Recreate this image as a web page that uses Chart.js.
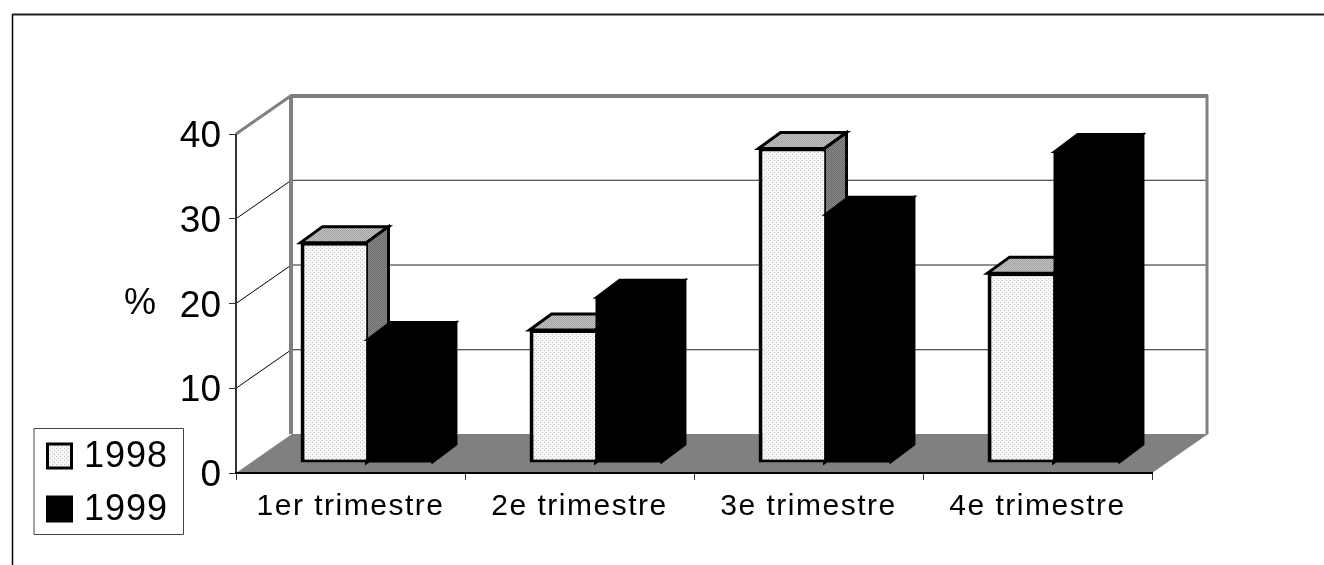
<!DOCTYPE html>
<html>
<head>
<meta charset="utf-8">
<style>
  html, body { margin: 0; padding: 0; background: #fff; }
  #wrap { position: relative; width: 1324px; height: 565px; }
</style>
<script src="https://cdn.jsdelivr.net/npm/chart.js@4"></script>
</head>
<body>
<div id="wrap"><canvas id="chart" width="1324" height="565"></canvas></div>
<script>
const quarters = ['1er trimestre', '2e trimestre', '3e trimestre', '4e trimestre'];
const values1998 = [26.0, 15.7, 37.1, 22.4];
const values1999 = [14.5, 19.5, 29.3, 36.7];
const gridValues = [10, 20, 30];
const axisMax = 40;
const unitLabel = '%';

const fontFamily = '"Liberation Sans", Arial, sans-serif';

// small repeating tiles for the stippled faces
function stipple(bg, dot, step) {
  const c = document.createElement('canvas');
  c.width = c.height = step * 2;
  const g = c.getContext('2d');
  g.fillStyle = bg;
  g.fillRect(0, 0, c.width, c.height);
  g.fillStyle = dot;
  g.fillRect(0, 0, 1, 1);
  g.fillRect(step, step, 1, 1);
  return g.createPattern(c, 'repeat');
}
const frontFill = stipple('#f6f6f6', '#c4c4c4', 2);
const topFill = stipple('#c4c4c4', '#a0a0a0', 1);
const sideFill = stipple('#8c8c8c', '#686868', 1);

// depth of the room and how far the bars sit inside it
const wall = { dx: 56, dy: -39 };
const barShift = { dx: 16, dy: -10 };
const barDepth = [{ dx: 22, dy: -16 }, { dx: 24, dy: -18 }];

function polygon(ctx, pts, fill, stroke, lw) {
  ctx.beginPath();
  pts.forEach((p, i) => (i ? ctx.lineTo(p[0], p[1]) : ctx.moveTo(p[0], p[1])));
  ctx.closePath();
  if (fill) { ctx.fillStyle = fill; ctx.fill(); }
  if (stroke) {
    ctx.strokeStyle = stroke;
    ctx.lineWidth = lw;
    ctx.lineJoin = 'miter';
    ctx.stroke();
  }
}

function line(ctx, x1, y1, x2, y2, color, lw) {
  ctx.beginPath();
  ctx.moveTo(x1, y1);
  ctx.lineTo(x2, y2);
  ctx.strokeStyle = color;
  ctx.lineWidth = lw;
  ctx.stroke();
}

// page frame, floor, back wall and wall grid
const room = {
  id: 'room',
  beforeDraw(chart) {
    const { ctx, chartArea: a, scales: { x, y } } = chart;
    const dx = wall.dx, dy = wall.dy;

    // the category labels are set wide, the value labels are not
    if (!x.spacedLabels) {
      const drawLabels = x.drawLabels;
      x.drawLabels = function (area) {
        ctx.letterSpacing = '1.5px';
        drawLabels.call(this, area);
        ctx.letterSpacing = '0px';
      };
      x.spacedLabels = true;
    }

    ctx.save();
    ctx.fillStyle = '#fff';
    ctx.fillRect(0, 0, chart.width, chart.height);

    line(ctx, 12.5, 14, 12.5, chart.height, '#000', 1.5);
    line(ctx, 12, 14.5, chart.width, 14.5, '#222', 2);

    polygon(ctx, [[a.left, a.bottom], [a.left + dx, a.bottom + dy], [a.right + dx, a.bottom + dy], [a.right, a.bottom]], '#808080');

    gridValues.forEach(v => {
      const py = y.getPixelForValue(v);
      line(ctx, a.left, py, a.left + dx, py + dy, '#000', 1);
      line(ctx, a.left + dx, py + dy + 0.5, a.right + dx, py + dy + 0.5, '#222', 1);
    });

    const top = y.getPixelForValue(axisMax);
    line(ctx, a.left, top, a.left + dx, top + dy, '#808080', 3);
    line(ctx, a.left + dx - 1, top + dy + 1, a.right + dx, top + dy + 1, '#808080', 4);
    line(ctx, a.left + dx - 1, top + dy, a.left + dx - 1, a.bottom + dy, '#808080', 4);
    line(ctx, a.right + dx - 1, top + dy, a.right + dx - 1, a.bottom + dy, '#808080', 3);
    line(ctx, a.left, a.top, a.left, a.bottom, '#333', 2);
    ctx.restore();
  },

  // bars are drawn 1998 first, so 1999 covers its neighbour's side face
  beforeDatasetsDraw(chart) {
    const { ctx } = chart;
    ctx.save();
    ctx.translate(barShift.dx, barShift.dy);
    quarters.forEach((q, i) => {
      [0, 1].forEach(d => {
        const bar = chart.getDatasetMeta(d).data[i];
        const p = bar.getProps(['x', 'y', 'base', 'width'], true);
        const l = p.x - p.width / 2, r = p.x + p.width / 2;
        const depth = barDepth[d];
        const dark = d === 1;
        const lw = dark ? 2 : 3;
        polygon(ctx, [[l, p.y], [l + depth.dx, p.y + depth.dy], [r + depth.dx, p.y + depth.dy], [r, p.y]],
          dark ? '#000' : topFill, '#000', lw);
        polygon(ctx, [[r, p.y], [r + depth.dx, p.y + depth.dy], [r + depth.dx, p.base + depth.dy], [r, p.base]],
          dark ? '#000' : sideFill, '#000', lw);
        bar.draw(ctx, chart.chartArea);
      });
    });
    ctx.restore();
    return false;
  },

  afterDraw(chart) {
    const { ctx, scales: { y } } = chart;
    ctx.save();
    ctx.fillStyle = '#000';
    ctx.textBaseline = 'middle';
    ctx.textAlign = 'left';
    ctx.font = '36px ' + fontFamily;
    ctx.fillText(unitLabel, 124, y.getPixelForValue(20) + 1);

    // legend box
    polygon(ctx, [[34, 428.5], [183.5, 428.5], [183.5, 534.5], [34, 534.5]], '#fff', '#444', 1);
    chart.data.datasets.forEach((ds, d) => {
      const cy = 456 + d * 53;
      const sx = 46, size = 27;
      if (d === 0) {
        polygon(ctx, [[sx + 1.5, cy - size / 2 + 1.5], [sx + size - 1.5, cy - size / 2 + 1.5], [sx + size - 1.5, cy + size / 2 - 1.5], [sx + 1.5, cy + size / 2 - 1.5]], frontFill, '#000', 3);
      } else {
        ctx.fillStyle = '#000';
        ctx.fillRect(sx, cy - size / 2, size, size);
      }
      ctx.fillStyle = '#000';
      ctx.font = '36px ' + fontFamily;
      ctx.letterSpacing = '1px';
      ctx.fillText(ds.label, 84, cy + 1);
      ctx.letterSpacing = '0px';
    });
    ctx.restore();
  },
};

new Chart(document.getElementById('chart').getContext('2d'), {
  type: 'bar',
  plugins: [room],
  data: {
    labels: quarters,
    datasets: [
      {
        label: '1998',
        data: values1998,
        backgroundColor: frontFill,
        borderColor: '#000',
        borderWidth: { left: 4, top: 3, bottom: 3, right: 0 },
        borderSkipped: false,
      },
      {
        label: '1999',
        data: values1999,
        backgroundColor: '#000',
        borderColor: '#000',
        borderWidth: 0,
      },
    ],
  },
  options: {
    responsive: false,
    animation: false,
    events: [],
    layout: { padding: { left: 0, right: 172, top: 134, bottom: 0 } },
    datasets: { bar: { barPercentage: 1, categoryPercentage: 0.576 } },
    scales: {
      x: {
        afterFit: s => { s.height = 92; },
        border: { color: '#000', width: 2 },
        grid: { drawOnChartArea: false, offset: true, color: '#333', tickLength: 7, lineWidth: 1 },
        ticks: {
          color: '#000',
          padding: 9,
          maxRotation: 0,
          font: { family: fontFamily, size: 30 },
        },
      },
      y: {
        min: 0,
        max: axisMax,
        afterFit: s => { s.width = 236; },
        border: { display: false },
        grid: { drawOnChartArea: false, color: '#333', tickLength: 7, lineWidth: 1 },
        ticks: {
          stepSize: 10,
          color: '#000',
          padding: 8,
          labelOffset: 3,
          font: { family: fontFamily, size: 37 },
        },
      },
    },
    plugins: {
      legend: { display: false },
      tooltip: { enabled: false },
    },
  },
});
</script>
</body>
</html>
